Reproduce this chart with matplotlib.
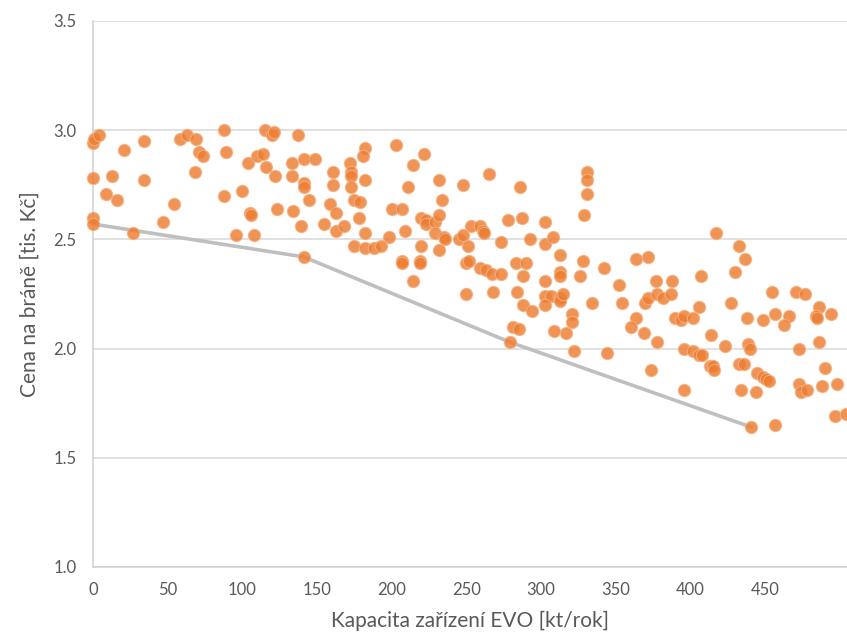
import matplotlib
matplotlib.use("Agg")
import matplotlib.pyplot as plt

# Scatter data: capacity [kt/rok] vs gate price [tis. Kč]
capacity = [
    0, 1, 4, 0, 0, 0, 13, 9, 16, 21, 27, 34, 34, 47, 54, 58, 63, 69, 68, 71,
    74, 88, 89, 88, 100, 96, 104, 105, 106, 108, 110, 114, 116, 115, 120, 121, 122, 123, 133, 133,
    134, 137, 139, 141, 141, 141, 141, 145, 149, 155, 159, 161, 161, 163, 163, 182, 181, 203, 222, 214,
    172, 173, 173, 182, 173, 211, 232, 248, 265, 286, 331, 331, 331, 234, 175, 179, 200, 207, 168, 178,
    220, 223, 223, 229, 232, 278, 287, 329, 303, 253, 259, 261, 262, 182, 209, 198, 229, 235, 236, 245,
    248, 273, 293, 303, 308, 175, 182, 188, 193, 220, 251, 232, 313, 207, 207, 219, 219, 250, 252, 259,
    263, 267, 273, 283, 290, 288, 303, 313, 313, 326, 328, 214, 417, 433, 437, 364, 372, 342, 377, 388,
    407, 430, 352, 250, 268, 284, 288, 294, 303, 307, 313, 313, 315, 303, 321, 321, 334, 281, 285, 279,
    309, 317, 322, 354, 370, 372, 378, 382, 387, 364, 360, 369, 378, 390, 394, 396, 402, 406, 427, 414,
    438, 455, 471, 477, 457, 449, 466, 463, 486, 484, 485, 494, 486, 473, 439, 440, 423, 396, 402, 406,
    408, 344, 374, 413, 415, 416, 433, 436, 445, 449, 451, 453, 490, 473, 474, 478, 488, 498, 396, 434,
    444, 441, 457, 497, 504,
]
price = [
    2.94, 2.96, 2.98, 2.78, 2.60, 2.57, 2.79, 2.71, 2.68, 2.91, 2.53, 2.95, 2.77, 2.58, 2.66, 2.96, 2.98, 2.96, 2.81, 2.90,
    2.88, 3.00, 2.90, 2.70, 2.72, 2.52, 2.85, 2.62, 2.61, 2.52, 2.88, 2.89, 2.83, 3.00, 2.98, 2.99, 2.79, 2.64, 2.85, 2.79,
    2.63, 2.98, 2.56, 2.87, 2.76, 2.74, 2.42, 2.68, 2.87, 2.57, 2.66, 2.81, 2.75, 2.62, 2.54, 2.92, 2.88, 2.93, 2.89, 2.84,
    2.85, 2.81, 2.79, 2.77, 2.74, 2.74, 2.77, 2.75, 2.80, 2.74, 2.81, 2.77, 2.71, 2.68, 2.68, 2.67, 2.64, 2.64, 2.56, 2.60,
    2.60, 2.59, 2.57, 2.58, 2.61, 2.59, 2.60, 2.61, 2.58, 2.56, 2.56, 2.54, 2.53, 2.53, 2.54, 2.51, 2.53, 2.51, 2.50, 2.50,
    2.52, 2.49, 2.50, 2.48, 2.51, 2.47, 2.46, 2.46, 2.47, 2.47, 2.47, 2.45, 2.43, 2.40, 2.39, 2.40, 2.39, 2.39, 2.40, 2.37,
    2.36, 2.34, 2.34, 2.39, 2.39, 2.33, 2.31, 2.35, 2.33, 2.33, 2.40, 2.31, 2.53, 2.47, 2.41, 2.41, 2.42, 2.37, 2.31, 2.31,
    2.33, 2.35, 2.29, 2.25, 2.26, 2.26, 2.20, 2.17, 2.24, 2.24, 2.23, 2.22, 2.25, 2.20, 2.16, 2.12, 2.21, 2.10, 2.09, 2.03,
    2.08, 2.07, 1.99, 2.21, 2.21, 2.23, 2.25, 2.23, 2.25, 2.14, 2.10, 2.07, 2.03, 2.14, 2.13, 2.15, 2.14, 2.19, 2.21, 2.06,
    2.14, 2.26, 2.26, 2.25, 2.16, 2.13, 2.15, 2.11, 2.19, 2.15, 2.14, 2.16, 2.03, 2.00, 2.02, 2.00, 2.01, 2.00, 1.99, 1.97,
    1.97, 1.98, 1.90, 1.92, 1.92, 1.90, 1.93, 1.93, 1.89, 1.87, 1.86, 1.85, 1.91, 1.84, 1.80, 1.81, 1.83, 1.84, 1.81, 1.81,
    1.80, 1.64, 1.65, 1.69, 1.70,
]

# Efficient frontier line
frontier_capacity = [0, 141, 279, 441]
frontier_price = [2.57, 2.42, 2.03, 1.64]

x_ticks = [0, 50, 100, 150, 200, 250, 300, 350, 400, 450]
y_ticks = [1.0, 1.5, 2.0, 2.5, 3.0, 3.5]

plt.rcParams['font.family'] = ['Lato', 'DejaVu Sans']

fig = plt.figure(figsize=(8.47, 6.39), dpi=100)
ax = fig.add_axes([0.1098, 0.1127, 0.8902, 0.8545])

ax.scatter(capacity, price, s=78, color='#ED7D31', alpha=0.82,
           edgecolors='#F4B183', linewidths=0.8, zorder=3, clip_on=False)
ax.plot(frontier_capacity, frontier_price, color='#BFBFBF', linewidth=2.6,
        solid_capstyle='round', zorder=2)

ax.set_xlim(0, 505)
ax.set_ylim(1.0, 3.5)
ax.set_xticks(x_ticks)
ax.set_yticks(y_ticks)
ax.set_yticklabels(['%.1f' % v for v in y_ticks])
ax.tick_params(length=0, labelsize=12, labelcolor='#595959')
ax.tick_params(axis='y', pad=12)
ax.tick_params(axis='x', pad=11)

ax.grid(axis='y', color='#D9D9D9', linewidth=1.1, zorder=0)
ax.set_axisbelow(True)
for side in ['top', 'right']:
    ax.spines[side].set_visible(False)
for side in ['left', 'bottom']:
    ax.spines[side].set_color('#D0D0D0')
    ax.spines[side].set_linewidth(1.1)

ax.set_xlabel('Kapacita zařízení EVO [kt/rok]', fontsize=15, color='#595959', labelpad=9)
ax.set_ylabel('Cena na bráně [tis. Kč]', fontsize=15, color='#595959', labelpad=10)

fig.savefig('out.png', dpi=100)
